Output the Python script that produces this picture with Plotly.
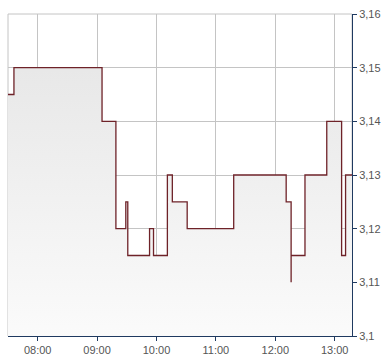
import plotly.graph_objects as go

day = "2024-01-02 "
times = ["07:30:00", "07:36:00", "09:05:00", "09:19:00", "09:29:00", "09:31:00",
         "09:53:00", "09:57:00", "10:11:00", "10:16:00", "10:31:00", "11:18:00",
         "12:11:00", "12:16:00", "12:16:00", "12:30:00", "12:52:00", "13:07:00",
         "13:11:00", "13:17:30"]
prices = [3.145, 3.15, 3.14, 3.12, 3.125, 3.115, 3.12, 3.115, 3.13, 3.125,
          3.12, 3.13, 3.125, 3.11, 3.115, 3.13, 3.14, 3.115, 3.13, 3.13]

y_ticks = [3.10, 3.11, 3.12, 3.13, 3.14, 3.15, 3.16]
y_labels = ["3,1", "3,11", "3,12", "3,13", "3,14", "3,15", "3,16"]
x_ticks = ["08:00", "09:00", "10:00", "11:00", "12:00", "13:00"]

x = [day + t for t in times]

fig = go.Figure()
fig.add_trace(go.Scatter(
    x=x, y=prices, mode="lines", line_shape="hv",
    line=dict(color="#6e2228", width=1.3),
    fill="tozeroy",
    fillgradient=dict(type="vertical", start=3.10, stop=3.15,
                      colorscale=[[0, "#fbfbfb"], [1, "#e8e8e8"]]),
    hoverinfo="skip", showlegend=False,
))

fig.update_layout(
    width=390, height=364,
    margin=dict(l=8, r=38, t=11, b=26),
    paper_bgcolor="white", plot_bgcolor="white",
    font=dict(family="Liberation Sans, Arial, sans-serif", size=11, color="#555555"),
    shapes=[dict(type="rect", xref="paper", yref="paper", x0=0, x1=1, y0=0, y1=1,
                 line=dict(color="#c4c4c4", width=1), layer="below")],
)
fig.update_xaxes(
    type="date", range=[day + "07:30:00", day + "13:17:30"],
    tickvals=[day + t for t in x_ticks], ticktext=x_ticks,
    showgrid=True, gridcolor="#c4c4c4", gridwidth=1,
    showline=True, linecolor="#1f3a60", linewidth=1,
    ticks="outside", ticklen=4, tickcolor="#1f3a60",
    zeroline=False, fixedrange=True,
)
fig.update_yaxes(
    range=[3.10, 3.16], side="right",
    tickvals=y_ticks, ticktext=y_labels,
    showgrid=True, gridcolor="#c4c4c4", gridwidth=1,
    showline=True, linecolor="#1f3a60", linewidth=1,
    ticks="outside", ticklen=4, tickcolor="#1f3a60",
    zeroline=False, fixedrange=True,
)

fig.write_html("out.html")
